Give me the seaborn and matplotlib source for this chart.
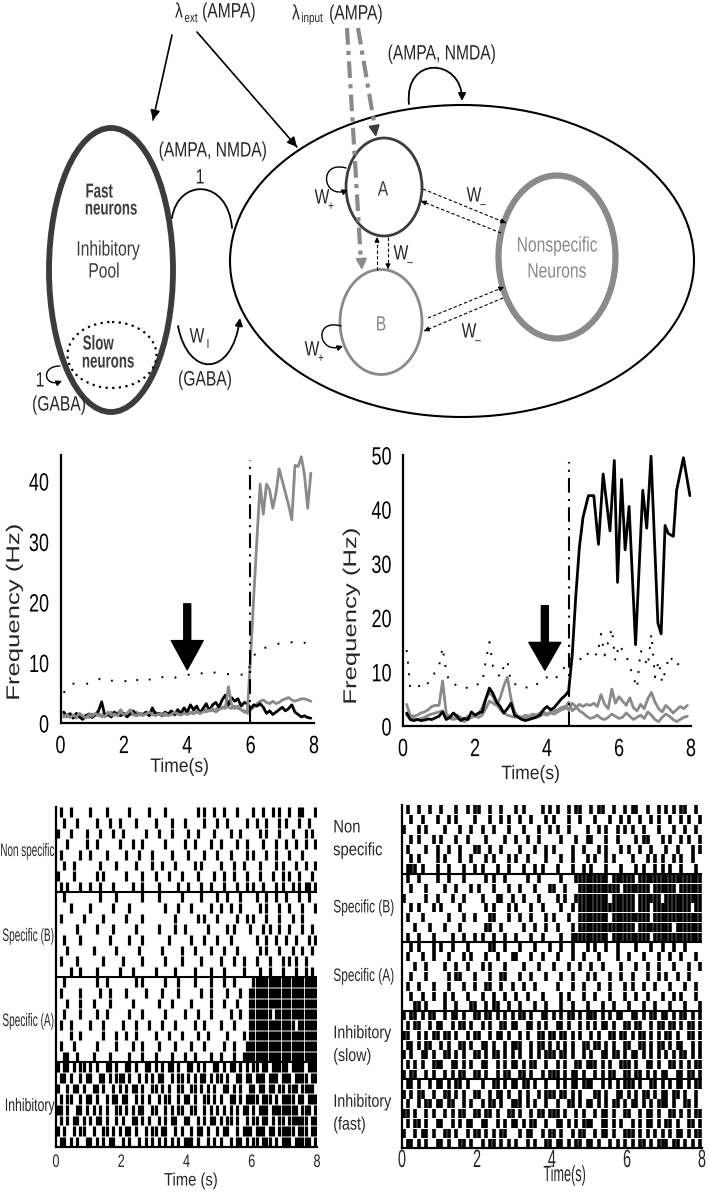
import numpy as np
import matplotlib
matplotlib.use('Agg')
import matplotlib.pyplot as plt
import seaborn as sns
from matplotlib import patheffects
from matplotlib.patches import Ellipse, FancyArrowPatch
from matplotlib.path import Path
from matplotlib.transforms import Affine2D

sns.set_style('white')
FAM = ['Liberation Sans', 'DejaVu Sans']
plt.rcParams['font.family'] = FAM

# ---------------- firing-rate traces (Hz), sampled every 0.1 s ----------------
t_grid = np.round(np.arange(1, 80) * 0.1, 1)

left_black = [1.8, 1.2, 1.5, 0.8, 1.6, 1.0, 0.6, 1.2, 1.5, 0.9,
              1.4, 2.0, 3.5, 1.2, 1.5, 1.0, 1.8, 1.4, 1.2, 1.6,
              1.0, 1.5, 2.0, 1.2, 1.6, 1.4, 1.8, 1.2, 2.5, 1.4,
              1.6, 1.2, 1.8, 1.5, 2.0, 1.4, 2.2, 1.6, 2.5, 1.8,
              3.0, 2.2, 2.8, 1.6, 2.4, 3.2, 2.0, 3.0, 3.4, 2.6,
              3.8, 4.6, 3.0, 4.2, 3.6, 4.0, 2.8, 3.4, 3.2, 2.4,
              3.0, 2.8, 3.2, 2.6, 1.6, 2.0, 1.4, 1.8, 2.2, 2.6,
              2.0, 2.4, 3.0, 1.8, 1.4, 1.0, 1.2, 0.9, 0.8]
left_gray_a = [1.0, 1.4, 0.9, 1.3, 1.0, 1.6, 1.2, 0.8, 1.4, 1.1,
               1.6, 1.2, 1.4, 1.0, 1.8, 1.3, 1.5, 1.2, 1.8, 1.4,
               1.6, 2.2, 1.4, 1.2, 1.6, 1.3, 1.5, 1.8, 1.4, 1.2,
               1.5, 1.3, 1.6, 1.2, 1.4, 1.8, 1.5, 1.3, 1.6, 1.4,
               1.8, 1.5, 2.0, 1.6, 1.8, 2.2, 2.0, 2.4, 1.8, 2.2,
               2.6, 2.4, 6.0, 3.0, 2.4, 2.8, 2.2, 1.8, 2.0, 11.0,
               21.0, 30.5, 39.5, 34.5, 39.5, 38.5, 35.5, 38.0, 42.0, 40.0,
               38.0, 36.0, 33.6, 42.6, 42.4, 44.0, 41.0, 35.5, 41.3]
left_gray_b = [1.4, 1.0, 1.6, 1.2, 0.8, 1.4, 1.0, 1.3, 0.9, 1.5,
               1.2, 1.6, 1.0, 1.4, 1.2, 1.8, 1.3, 1.6, 2.2, 1.4,
               1.2, 1.6, 1.3, 1.8, 1.4, 1.2, 1.6, 1.3, 1.5, 1.8,
               1.4, 1.6, 1.2, 1.5, 1.8, 1.3, 1.6, 1.4, 1.8, 1.5,
               1.6, 2.0, 1.7, 1.9, 2.2, 1.8, 2.4, 2.0, 2.2, 2.6,
               2.4, 2.8, 2.6, 2.4, 2.8, 2.4, 2.2, 2.0, 1.6, 2.2,
               2.6, 3.2, 3.6, 3.8, 3.4, 3.2, 3.6, 3.2, 3.4, 3.8,
               4.0, 4.2, 3.8, 3.6, 3.8, 4.0, 4.0, 3.8, 3.6]
left_inh_t = [0.1, 0.3, 0.6, 1.0, 1.3, 1.5, 2.0, 2.3, 2.5, 3.0, 3.3, 3.6, 4.0,
              4.3, 4.6, 5.0, 5.5, 5.9, 6.0, 6.2, 6.5, 6.8, 7.2, 7.5, 7.9]
left_inh = [5.0, 6.5, 6.5, 6.5, 7.5, 7.0, 7.0, 6.5, 7.5, 7.0, 7.8, 7.5, 8.0,
            7.8, 8.6, 8.2, 8.0, 8.0, 10.0, 12.0, 12.5, 13.0, 13.5, 13.0, 13.5]

right_black_pre = [2.4, 1.2, 1.0, 1.2, 1.0, 1.1, 1.3, 1.2, 1.5, 1.8,
                   2.6, 1.2, 1.6, 2.4, 1.8, 1.0, 1.4, 1.2, 2.6, 2.0,
                   2.4, 2.6, 5.0, 7.0, 6.0, 4.4, 3.6, 2.4, 3.2, 4.2,
                   2.0, 1.6, 1.2, 1.0, 1.2, 1.4, 1.6, 2.0, 3.0, 3.6,
                   3.0, 3.4, 4.2, 5.0, 5.6, 6.4]
right_black_post_t = [4.7, 4.8, 4.9, 5.0, 5.15, 5.3, 5.43, 5.56, 5.75, 5.87, 5.96,
                      6.07, 6.17, 6.28, 6.46, 6.66, 6.77, 6.89, 7.08, 7.17, 7.28,
                      7.37, 7.51, 7.6, 7.79, 7.97]
right_black_post = [13.0, 24.0, 33.0, 38.5, 42.5, 42.5, 33.5, 46.5, 36.0, 49.0, 26.5,
                    45.5, 32.5, 40.5, 15.0, 43.5, 36.5, 49.8, 19.0, 17.0, 37.0,
                    35.5, 35.0, 43.5, 49.5, 42.5]
right_gray_1 = [4.0, 2.0, 1.8, 2.0, 2.4, 2.6, 3.0, 3.6, 3.8, 3.8,
                8.3, 2.4, 1.6, 1.4, 2.0, 1.6, 1.2, 1.8, 1.6, 2.0,
                2.2, 3.4, 5.0, 6.2, 5.4, 4.0, 3.0, 2.4, 2.0, 1.8,
                1.6, 1.8, 1.6, 2.0, 1.8, 2.2, 2.0, 2.4, 2.6, 2.2,
                2.6, 2.8, 3.0, 3.4, 3.6, 3.0, 4.2, 3.6, 2.8, 2.4,
                1.8, 1.4, 1.6, 2.0, 1.4, 1.2, 1.6, 2.2, 1.8, 1.4,
                1.6, 2.4, 1.8, 1.2, 1.6, 2.0, 1.4, 2.6, 2.0, 1.2,
                0.8, 1.6, 2.2, 1.8, 1.2, 0.8, 1.2, 1.6, 1.8]
right_gray_2 = [2.0, 1.6, 1.4, 1.2, 1.4, 1.6, 2.0, 2.2, 2.4, 2.6,
                2.8, 1.8, 1.4, 1.2, 1.4, 1.2, 0.8, 1.2, 1.6, 1.8,
                1.6, 2.0, 3.2, 4.6, 4.2, 3.8, 5.2, 7.4, 9.0, 5.0,
                2.6, 1.8, 1.6, 1.4, 1.8, 1.6, 2.0, 1.8, 2.2, 2.0,
                2.4, 2.2, 2.6, 3.0, 3.2, 4.4, 2.8, 3.4, 4.0, 3.6,
                4.0, 3.8, 4.2, 3.6, 5.8, 4.0, 3.2, 6.8, 4.2, 5.4,
                4.6, 3.8, 5.2, 3.4, 2.8, 4.0, 3.2, 5.0, 6.2, 4.4,
                3.2, 2.6, 3.8, 3.2, 2.4, 3.0, 3.6, 3.2, 3.8]
right_inh_t = [0.1, 0.15, 0.2, 0.4, 0.6, 0.8, 1.0, 1.1, 1.2, 1.3, 1.5, 1.8, 2.0,
               2.2, 2.3, 2.4, 2.5, 2.7, 2.8, 2.9, 3.0, 3.2, 3.5, 3.8, 4.0, 4.2,
               4.4, 4.6, 4.8, 5.0, 5.2, 5.4, 5.5, 5.6, 5.8, 5.9, 6.0, 6.2, 6.4,
               6.5, 6.6, 6.8, 6.9, 7.0, 7.1, 7.2, 7.4, 7.6, 7.8]
right_inh = [14.0, 11.0, 7.0, 7.5, 7.0, 9.0, 11.0, 14.5, 10.0, 8.0, 7.5, 7.0, 7.5,
             8.0, 12.0, 15.5, 11.0, 9.0, 11.0, 12.0, 8.0, 7.5, 7.0, 8.0, 9.0, 8.5,
             10.0, 12.0, 13.0, 12.0, 14.0, 13.0, 17.0, 13.0, 18.0, 12.0, 15.0, 13.0, 9.0,
             7.0, 14.0, 11.0, 17.0, 9.0, 12.0, 8.0, 13.0, 11.0, 13.0]

onset_left, onset_right = 5.97, 4.62
cue_left, cue_right = 4.0, 3.94

# ---------------- spike rasters: one char per 0.1 s bin, '|' = spike ----------------
left_labels = ['Non specific', 'Specific (B)', 'Specific (A)', 'Inhibitory']
left_rows = [
    [".|..|..... |....|.... ..|.....|. ...|...... ...|.|..|. .|...|.... |..|..|.|. .|..||...|",
     "..|...|... ..|...|..| ....|..... |....|...| .....|...| ..|.....|. .|..|...|. |...|..|..",
     "|...|....| ...|...|.. |......|.. .|...|.... |..|....|. ...|..|... ..|.|...|. ..|...|.|.",
     "...|.....| ..|......| ...|..|... ...|.....| ..|....|.. |....|..|. ...|...|.. |..|..|..|",
     ".|.....|.. |....|.... .|...|...| .....|.... |....|...| ...|....|. |...|..|.. .|...|....",
     "..|..|.... ...|....|. ....|....| ..|...|... ..|.|..... |...|..|.. ..|....|.| ...|..|..|",
     "|....|.... ..|.|..... .|....|... |...|...|. ...|....|. .|..|...|. ..|...|..| .|..|...|.",
     ".|.|...|.. |..|...|.. ...|..|... .|.....|.. |...|..|.. .|...|..|. |..|...|.| ..|.|.||.|"],
    ["..|....... ...|....|. ......|... .|......|. ....|....| ..|...|... .|..|..|.. |...|..|..",
     "....|..... |......|.. ..|....... ...|...|.. .|.....|.. |..|..|... ..|.|...|. .|...|...|",
     ".|......|. ....|..... .|....|... ......|... ...|.|...| .....|..|. |...|...|. ..|..|....",
     "......|... ..|....|.. ....|..... .|....|..| ......|... ..|.|....| ...|.|..|. .|...|..|.",
     "..|....|.. ......|... ..|...|... ....|..... .|...|...| ...|...... .|..|..|.. |..|...|.|",
     "...|...... .|......|. .....|.... ..|.....|. ..|....|.. .|...|.... ..|.|...|. ..|..|..|.",
     ".|....|... ....|..... |.....|... ...|....|. ....|..... |...|..|.. .|...|...| .|.|..|...",
     "....|..|.. ..|......| ...|...... |.....|... ..|....|.. .|.....|.. ..|..|...| ...|..|.|."],
    ["..|....... ..|..|.... ....|.|... ...|...|.. ..|....|.. .|..|..... |||||||||| ||||||||||",
     ".|.....|.. ...|..|... .|.....|.. ..|....|.. ....|..|.. ..|...|..| |||||||||| ||||||||||",
     "...|...|.. .|....|... ...|...... .|...|.... .|.....|.. .|...|...| |||||||||| ||||||||||",
     "..|....|.. ..|..|.... ..|...|... ...|.....| ...|...|.. ...|..|..| ||||||.||| ||||||||||",
     ".|..|..... |...|..... |...|...|. ..|...|... ..|..|.... |...|....| |||||||||| |||.||||||",
     "....|..|.. ....|...|. .|..|..... |...|...|. ...|..|... ..|....|.| |||||||||| ||||||||||",
     ".|...|.... ..|.....|. ...|..|... .|....|... .|...|.... .|..|...|| |||||||||| ||||||||||",
     "..||..|... .|....|... ..|...|... |....|...| ..|....|.. |...|..||| |||||||||| ||||||||||"],
    ["|.||.|.||. |.|..||.|. .||.|..||. |.|.||.|.. ||.|.|..|| .|.||.|.|. ||.||.|||| |.||||.|||",
     ".||.|..|.| |..||.|.|| |.|..|.|.| .||..|.||. |.|.||.|.| |.|..||.|| .|||.|||.| ||.||||.||",
     "|..|.||.|. .||.|..|.| .|.||.|..| |.|.|..||. .||.|.|.|. .||.|.|..| |.||.||.|| .|||.||||.",
     ".|.||..|.| |.|..|.||. ||..|.|.|. .|.||..|.| |.|..||.|. |..||.|.|| ||.|||.|.| |||.||.|||",
     "||.|..||.| .|.|.|..|| .|.|.||..| |..|.|.||. .||..|.|.| .|.|.|.||. |.|||.|||| ||||.|||.|",
     ".|.|.||.|. |.||.|..|. |..||.|.|. .|.|.||..| |..|.|.||. |.||.|..|. ||.||.|.|| .||||||.||",
     "|.|..|.||. .|..||.|.| .||.|..|.| |.||..|.|. .|.||.|..| .||..|.||| .|||.||.|| |||.|||.||",
     ".||.|.|..| |.|.|.||.. |.|..|.|.| .|.|.|.|.| ||.|..|.|. |..|.||.|. ||.|||.|.| ||.|||||.|"],
]

right_labels = ['Non\nspecific', 'Specific (B)', 'Specific (A)', 'Inhibitory\n(slow)', 'Inhibitory\n(fast)']
right_rows = [
    [".|..|..|.. |...|..|.| |..|..|... |.|....|.| .|..|.||.. |.||..|..| .||..|..|. |.|.||..|.",
     "..|..|...| ..|.|....| ...|..|.|. .|..|...|. |...|..|.. .|...|..|. |..|..|.|. .|..|.|..|",
     "|...|.|... .|...|..|. .|..|...|. ..|...|..| .|..|....| ..|.|..|.| .|..|...|. ..|..|..|.",
     "..|.|...|. |...|..|.. ..|....|.. |..|..|... ..|...|..| |...|..|.. ..|.||...| .|..|.|..|",
     ".|....|..| ..|..|...| |..|..|... .|...|..|. |....|..|. ..|.|...|. |..|..|... |..|...|.|",
     "..|.|....| .|...|..|. ..|.|...|. |..|....|. ..|..|...| .|..|.|... .|...|.|.| ..|.|..|..",
     ".|||.|...| ..|...|..| .|...|..|. ..|..|.|.. .|...|..|. |...|...|. ..|.|..|.| .|..|...|."],
    [".|..|....| ..|...|... ..|.|..|.. ...|..|... ..|...|||| |||||.|||| ||.||||||| ||||||||||",
     "..|...|... .|..|...|. |...|...|. .|...|...| |..|...||| ||||||||.| ||||||.||| |||.||||||",
     "|.....|..| ...|..|... .|...||..| ..|...|... .|.|..|||| |||||.|||| ||.||||||. ||||||||||",
     "..|.|...|. |....|.... ..|.|...|. |...|..|.. ..|..|.||| |||||||||| ||.|||.||| |||||||.||",
     ".|...|.... ..|...|..| ...||...|. .|..|...|. |...|..||| |||||.|||| ||||||.||| ||||||||||",
     "...|...|.. .|...|.... ..||..|... ..|..|..|. .|...|.||| |||||||||| ||.||||||| ||.|||||||",
     ".|..|...|. ...|..|..| .|..|..|.. |...|..|.. ..|..||||| |||||.|||| ||||||.||| ||||||||||"],
    ["..|.|...|. |..|...|.. ...||..|.. .|...|...| ..|..|...| .|..|..|.. ..|...|..| ..|..|....",
     ".|...|..|. ..|...|.|. ..|..|...| |...|..|.. .|...|..|. ..|....|.. |...|...|. .|..|...|.",
     "...|..|... .|..|..|.. .|.|...|.. ..|...|... |...|..|.. |..|....|. ..|..|..|. ..|...|..|",
     "..|...|... ..|.||...| ...|..||.. .|..|...|. ..|..|...| .|...|..|. .|...|..|. |..|..|...",
     ".|..|...|. ..|...|..| ..||..|..| ..|..|.... .|...|..|. ..|..|...| .|..|..|.. .|...|..|.",
     "..|..|..|. .|.|...|.. .|..|..|.. |..|...|.. ..|.|...|. .|...|...| ..|..|...| ..|.|...|.",
     "...||.|... .|..|...|| ..|.||..|. .|...|..|. ..|..|...| ...|..|... |...|..|.. .|...|...|"],
    ["|.||.|.||. .|.||.|..| |.||.|.|.| .||.|..||. |.|.||.|.| ||.|.|.||. .||.|.||.| |.|.||.|.|",
     ".|.||..|.| |..|.||.|. .|.|..||.| |..||.|.|. .||.|..|.| .|.||.|..| |.||..|.|| .||.|.||.|",
     "||..|.|.|| .||.|..|.| |..|.||.|. .|.|..||.| |.||.|.|.. |.|..||.|| .|.||.|.|. ||.|..||.|",
     ".||.|.||.. |.|..||.|. .||.|..|.| ||..|.||.| .|.|.|..|| .||.|.|..| |..||.|.|| .|.||..|.|",
     "|.|..||.|. .||.|.|..| |.|.||.|.| .|..|.|.|| |.||.|..|. |..||.||.| .||.|.|.|. |.|.||.|.|",
     ".|.|.|..|| |..||.|.|. .||..|.|.| |.|.||..|. .|.|..||.| ||.|.|..|| |.|..||.|. .||.|.|.||",
     "|.||..|.|. .|.|.||..| |.|..|.||. .||.|..|.| ||.|.||.|. .|.|.||..| |.||.|.|.| |..||.||.|"],
    [".||.|..|.| |.|.||.|.. .|..||.|.| |.||.|..|. .|.|.||.|| |..|.|.|.| ||.|..||.| .|.||.|.||",
     "|.|.||..|. .||.|.|..| |..|.||.|. .|.|..|.|| |.||.|.|.. .||.|..||. |.|.||.|.| |.||.|..|.",
     ".|..|.||.| |.||..|.|. .|.||.|..| ||.|.|..|. .|..||.|.| |.|.|.||.| .||.|.|.|| |.|..||.|.",
     "||.|..|.|. .|.|.||..| |.||.|..|| .|..|.||.| ||.|..|.|. .|.||.|..| |..|.||.|. .||.|.|.||",
     ".|.||.|..| |..|.|.||. .||..|.|.| |.|.||..|. .||.|.|.|| |..||.|.|. .|.|.||.|. ||.|..||.|",
     "|..|.||.|. .||.|..|.| |.|.|.||.. .|.||..|.| |.|..|.||. .|.||.|..| ||.|.|.|.| .|.||.|.||",
     ".||.|.|..| |.|..||.|. .|.||.|.|. |..|.|..|| .||.|.||.| |.|..|.|.| .|.||.|.|| |.||.|.|.|"],
]


# The original figure is stretched vertically, so its lettering looks condensed.
# Squeeze draws each text with a horizontal scale about its ink box.
class Squeeze(patheffects.AbstractPathEffect):
    def __init__(self, sx, anchor='center'):
        super().__init__()
        self.sx, self.anchor = sx, anchor

    def draw_path(self, renderer, gc, tpath, affine, rgbFace=None):
        bb = tpath.get_extents(affine)
        cx = {'left': bb.x0, 'right': bb.x1}.get(self.anchor, 0.5 * (bb.x0 + bb.x1))
        sq = Affine2D().translate(-cx, 0).scale(self.sx, 1).translate(cx, 0)
        gc2 = renderer.new_gc()
        gc2.copy_properties(gc)
        gc2.set_snap(False)
        renderer.draw_path(gc2, tpath, affine + sq, rgbFace)
        gc2.restore()


def squeeze(texts, sx, anchor='center'):
    for t in texts:
        t.set_path_effects([Squeeze(sx, anchor)])


# ---------------- figure ----------------
W, H = 710, 1199
fig = plt.figure(figsize=(W / 100, H / 100), dpi=100)


def px_axes(x0, y0, x1, y1):
    return fig.add_axes([x0 / W, 1 - y1 / H, (x1 - x0) / W, (y1 - y0) / H])


# ---- network diagram (pixel coordinates) ----
ax = px_axes(0, 0, W, 440)
ax.set_xlim(0, W)
ax.set_ylim(440, 0)
ax.axis('off')

DARK, GRAY = '#3c3c3c', '#8a8a8a'
ax.add_patch(Ellipse((111, 270), 124, 284, fill=False, ec=DARK, lw=4.2))
ax.add_patch(Ellipse((112, 355), 89, 66, fill=False, ec='black', lw=1.6, ls=(0, (1, 2))))
ax.add_patch(Ellipse((462, 261), 464, 312, fill=False, ec='black', lw=1.5))
ax.add_patch(Ellipse((384, 187), 76, 98, fill=False, ec=DARK, lw=2.0))
ax.add_patch(Ellipse((381, 322), 82, 105, fill=False, ec=GRAY, lw=2.0))
ax.add_patch(Ellipse((557, 257), 117, 163, fill=False, ec=GRAY, lw=4.5))


def head(p0, p1, color='black', lw=1.0, ms=10):
    p0, p1 = np.array(p0, float), np.array(p1, float)
    u = (p1 - p0) / np.hypot(*(p1 - p0))
    ax.annotate('', xy=p1, xytext=p1 - 5 * u,
                arrowprops=dict(arrowstyle='-|>', color=color, lw=lw,
                                mutation_scale=ms, shrinkA=0, shrinkB=0))


def line_arrow(p0, p1, color='black', lw=1.0, ls='-', ms=10):
    ax.plot([p0[0], p1[0]], [p0[1], p1[1]], color=color, lw=lw, ls=ls)
    head(p0, p1, color, lw, ms)


def curve(verts, arrow=True, lw=1.3, ms=11):
    codes = [Path.MOVETO] + [Path.CURVE4] * (len(verts) - 1)
    ax.add_patch(FancyArrowPatch(path=Path(verts, codes),
                                 arrowstyle='-|>' if arrow else '-',
                                 mutation_scale=ms, lw=lw, color='black'))


# external inputs
line_arrow((172, 35), (153, 120), lw=1.2, ms=14)
line_arrow((197, 32), (297, 147), lw=1.2, ms=14)
ax.plot([347, 361], [28, 262], color=GRAY, lw=3, ls=(0, (4, 1.5, 1, 1.5)))
head((347, 28), (362, 270), color=GRAY, lw=1.5, ms=16)
ax.plot([358, 375], [28, 128], color=GRAY, lw=3, ls=(0, (4, 1.5, 1, 1.5)))
head((358, 28), (376, 137), color=DARK, lw=1.5, ms=16)

# recurrent connections
curve([(172, 218), (178, 178), (228, 178), (232, 228)], arrow=False)
curve([(178, 326), (188, 378), (232, 378), (240, 318)])
curve([(60, 366), (40, 366), (44, 388), (62, 381)], ms=8, lw=1.0)
curve([(409, 104), (404, 55), (462, 58), (462, 101)])
curve([(346, 168), (318, 160), (322, 200), (348, 190)], ms=8, lw=1.0)
curve([(341, 326), (313, 318), (318, 355), (343, 346)], ms=8, lw=1.0)

# W- connections (dashed)
DASH = (0, (3, 2))
line_arrow((423, 189), (506, 223), lw=0.8, ls=DASH, ms=7)
line_arrow((501, 233), (421, 201), lw=0.8, ls=DASH, ms=7)
line_arrow((377, 270), (377, 237), lw=0.8, ls=DASH, ms=7)
line_arrow((388, 237), (388, 269), lw=0.8, ls=DASH, ms=7)
line_arrow((428, 318), (504, 287), lw=0.8, ls=DASH, ms=7)
line_arrow((503, 298), (424, 331), lw=0.8, ls=DASH, ms=7)


def T(x, y, s, size=15, sx=0.75, **kw):
    t = ax.text(x, y, s, fontsize=size, ha='center', va='center', family=FAM, **kw)
    squeeze([t], sx)
    return t


T(179, 12, 'λ')
T(191, 19, 'ext', 9.5)
T(229, 12, '(AMPA)')
T(296, 14, 'λ')
T(312, 19, 'input', 9.5)
T(356, 14, '(AMPA)')
T(213, 151, '(AMPA, NMDA)')
T(200, 178, '1')
T(442, 54, '(AMPA, NMDA)')
T(99, 192, 'Fast', 14.5, 0.66, color=DARK, weight='bold')
T(111, 209, 'neurons', 14.5, 0.66, color=DARK, weight='bold')
T(108, 250, 'Inhibitory', color=DARK)
T(104, 272, 'Pool', color=DARK)
T(98, 344, 'Slow', 14.5, 0.66, color=DARK, weight='bold')
T(108, 362, 'neurons', 14.5, 0.66, color=DARK, weight='bold')
T(197, 337, 'W')
T(208, 345, 'I', 9.5)
T(205, 380, '(GABA)')
T(40, 381, '1')
T(59, 405, '(GABA)')
T(383, 190, 'A', color=DARK)
T(381, 325, 'B', color=GRAY)
T(557, 246, 'Nonspecific', color=GRAY)
T(557, 272, 'Neurons', color=GRAY)
for wx, wy, sub in [(322, 198, '+'), (312, 350, '+'), (474, 196, '–'),
                    (401, 254, '–'), (469, 332, '–')]:
    T(wx, wy, 'W')
    T(wx + 9, wy + 9, sub, 9.5)


# ---- firing-rate plots ----
def style_rate(a, ymax, yt):
    a.set_xlim(0, 8)
    a.set_ylim(0, ymax)
    a.set_xticks([0, 2, 4, 6, 8])
    a.set_yticks(yt)
    for s in ['top', 'right']:
        a.spines[s].set_visible(False)
    for s in ['left', 'bottom']:
        a.spines[s].set_color('black')
        a.spines[s].set_linewidth(1.6)
    a.tick_params(direction='in', length=4, width=1.2, labelsize=18, colors='black', pad=8)
    squeeze(a.get_xticklabels(), 0.72)
    squeeze(a.get_yticklabels(), 0.72, 'right')
    a.set_ylabel('Frequency (Hz)', fontsize=18.5)
    a.set_xlabel('Time(s)', fontsize=14)
    squeeze([a.yaxis.label], 0.72)
    squeeze([a.xaxis.label], 0.9)


ax1 = px_axes(60.5, 455, 314, 723)
sns.lineplot(x=t_grid, y=left_gray_b, ax=ax1, color=GRAY, lw=2, estimator=None)
sns.lineplot(x=t_grid, y=left_black, ax=ax1, color='black', lw=2, estimator=None)
sns.lineplot(x=t_grid, y=left_gray_a, ax=ax1, color=GRAY, lw=2, estimator=None)
sns.lineplot(x=left_inh_t, y=left_inh, ax=ax1, color='black', lw=1.4,
             linestyle=(0, (1, 6)), estimator=None)
ax1.plot([onset_left, onset_left], [0, 43.5], color='black', lw=1.5, ls=(0, (7, 3, 1, 3)))
ax1.annotate('', xy=(cue_left, 8.8), xytext=(cue_left, 19.7),
             arrowprops=dict(facecolor='black', edgecolor='black', width=5,
                             headwidth=23, headlength=21, shrink=0))
style_rate(ax1, 44.3, [0, 10, 20, 30, 40])
ax1.yaxis.set_label_coords(-0.136, 0.414)
ax1.xaxis.set_label_coords(0.471, -0.134)

ax2 = px_axes(403, 455, 691, 726)
right_black_t = list(t_grid[:len(right_black_pre)]) + right_black_post_t
sns.lineplot(x=right_inh_t, y=right_inh, ax=ax2, color='black', lw=1.4,
             linestyle=(0, (1, 5)), estimator=None)
sns.lineplot(x=t_grid, y=right_gray_1, ax=ax2, color=GRAY, lw=2, estimator=None)
sns.lineplot(x=t_grid, y=right_gray_2, ax=ax2, color=GRAY, lw=2, estimator=None)
sns.lineplot(x=right_black_t, y=right_black_pre + right_black_post, ax=ax2,
             color='black', lw=2, estimator=None, sort=False)
ax2.plot([onset_right, onset_right], [0, 48.8], color='black', lw=1.5, ls=(0, (7, 3, 1, 3)))
ax2.annotate('', xy=(cue_right, 10.3), xytext=(cue_right, 22.2),
             arrowprops=dict(facecolor='black', edgecolor='black', width=5,
                             headwidth=23, headlength=20, shrink=0))
style_rate(ax2, 50, [0, 10, 20, 30, 40, 50])
ax2.yaxis.set_label_coords(-0.139, 0.406)
ax2.xaxis.set_label_coords(0.444, -0.148)


# ---- rasters ----
def draw_raster(a, groups, lw):
    n = len(groups[0])
    for g, rows in enumerate(groups):
        for r, s in enumerate(rows):
            s = s.replace(' ', '')
            pos = [0.1 * i + 0.05 for i, c in enumerate(s) if c == '|']
            a.eventplot(pos, lineoffsets=g * n + r + 0.5, linelengths=0.92,
                        linewidths=lw, colors='black')
    for g in range(1, len(groups)):
        a.axhline(g * n, color='black', lw=1.5)
    a.set_xlim(0, 8)
    a.set_ylim(len(groups) * n, 0)
    a.set_xticks([0, 2, 4, 6, 8])
    for s in ['top', 'right']:
        a.spines[s].set_visible(False)
    for s in ['left', 'bottom']:
        a.spines[s].set_color('black')
        a.spines[s].set_linewidth(1.6)
    return n


ax3 = px_axes(56, 807, 317, 1147)
n3 = draw_raster(ax3, left_rows, 2.3)
ax3.set_yticks([g * n3 + n3 / 2 for g in range(len(left_rows))])
ax3.set_yticklabels(left_labels)
ax3.tick_params(axis='y', direction='in', length=3, width=1, pad=1, labelsize=13)
ax3.tick_params(axis='x', direction='in', length=0, pad=5, labelsize=13)
for lab, sx in zip(ax3.get_yticklabels(), [0.55, 0.56, 0.56, 0.68]):
    squeeze([lab], sx, 'right')
squeeze(ax3.get_xticklabels(), 0.7)
ax3.set_xlabel('Time (s)', fontsize=13)
squeeze([ax3.xaxis.label], 0.82)
ax3.xaxis.set_label_coords(0.517, -0.075)

ax4 = px_axes(402, 805, 702, 1148)
n4 = draw_raster(ax4, right_rows, 2.6)
ax4.set_yticks([])
for g, (lab, sx) in enumerate(zip(right_labels, [0.82, 0.66, 0.66, 0.79, 0.79])):
    t = ax4.text(-0.23, g * n4 + n4 / 2, lab, transform=ax4.get_yaxis_transform(),
                 ha='left', va='center', fontsize=13, linespacing=1.45, family=FAM)
    squeeze([t], sx, 'left')
ax4.tick_params(axis='x', direction='in', length=0, pad=0, labelsize=18)
squeeze(ax4.get_xticklabels(), 0.58)
ax4.set_xlabel('Time(s)', fontsize=16)
squeeze([ax4.xaxis.label], 0.57)
ax4.xaxis.set_label_coords(0.543, -0.05)

fig.savefig('out.png', dpi=100)
